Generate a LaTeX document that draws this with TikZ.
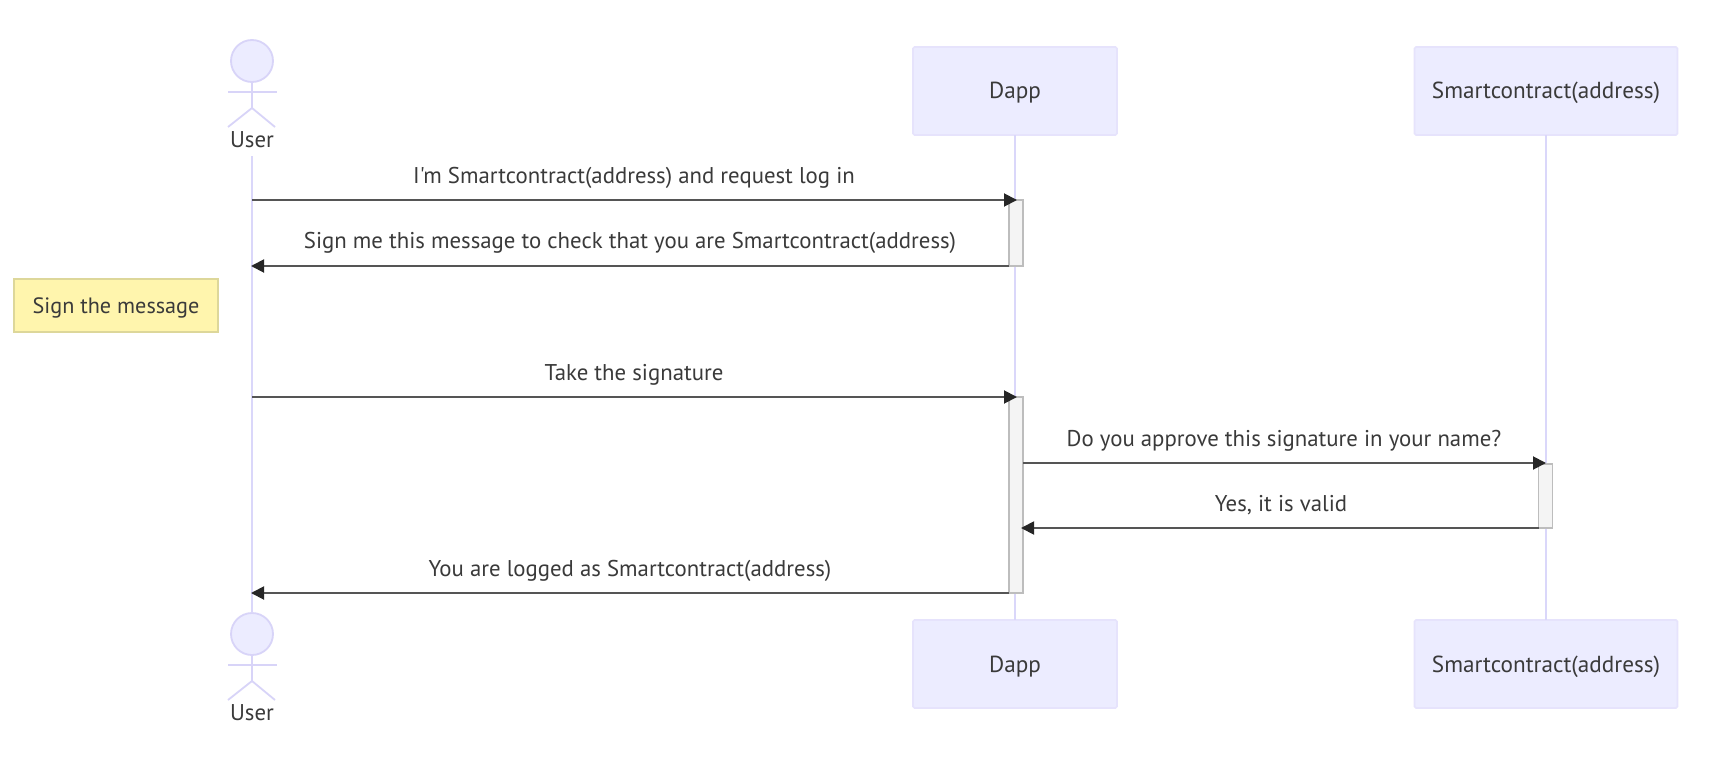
\documentclass[tikz,border=0pt]{standalone}
\usepackage{fontspec}
\setmainfont{PT Sans}[Ligatures=TeXOff]
\usetikzlibrary{arrows.meta}
\definecolor{boxfill}{HTML}{ECECFF}
\definecolor{boxline}{HTML}{E6E3FC}
\definecolor{lifeline}{HTML}{DAD7FA}
\definecolor{actorline}{HTML}{D8D4F8}
\definecolor{msgline}{HTML}{555555}
\definecolor{txt}{HTML}{3A3A3A}
\definecolor{notefill}{HTML}{FFF5AD}
\definecolor{noteline}{HTML}{DDD79A}
\definecolor{actfill}{HTML}{F4F4F4}
\definecolor{actline}{HTML}{BDBDBD}
\tikzset{
  every node/.style={inner sep=0pt,outer sep=0pt,text=txt,font=\fontsize{22.8}{26}\selectfont},
  lifeln/.style={draw=lifeline,line width=2pt},
  actorln/.style={draw=actorline,line width=1.8pt},
  partbox/.style={draw=boxline,line width=1.6pt,fill=boxfill,rounded corners=1.5pt,minimum height=88pt,font=\fontsize{23.2}{26}\selectfont,text depth=4pt,text height=20pt},
  dappbox/.style={partbox,minimum width=204pt},
  scbox/.style={partbox,minimum width=263pt},
  head/.style={circle,draw=actorline,line width=1.8pt,fill=boxfill,minimum size=42pt},
  lbl/.style={anchor=center},
  note/.style={draw=noteline,line width=1.6pt,fill=notefill,minimum width=204pt,minimum height=53pt,font=\fontsize{22.2}{26}\selectfont,text depth=3pt,text height=19pt},
  activation/.style={draw=actline,line width=1.4pt,fill=actfill,minimum width=14pt},
  msg/.style={draw=msgline,line width=1.9pt,-{Triangle[length=13pt,width=13pt,color=black!85]}},
}
\begin{document}
\begin{tikzpicture}[x=1pt,y=-1pt]
\useasboundingbox[fill=white] (0,0) rectangle (1721,776);
% participants
\node[head] (h1) at (252,61) {};
\node[lbl] (u1) at (252,140) {User};
\node[head] (h2) at (252,634) {};
\node[lbl] (u2) at (252,713) {User};
\node[dappbox] (d1) at (1015,91) {Dapp};
\node[dappbox] (d2) at (1015,664) {Dapp};
\node[scbox] (s1) at (1546,91) {Smartcontract(address)};
\node[scbox] (s2) at (1546,664) {Smartcontract(address)};
% lifelines
\draw[lifeln] ([yshift=-8pt]u1.south) -- (h2.north);
\draw[lifeln] (d1.south) -- (d2.north);
\draw[lifeln] (s1.south) -- (s2.north);
% stick figures
\foreach \h/\o in {h1/1,h2/2}{
  \coordinate (neck\o) at (\h.south);
  \coordinate (hip\o) at ([yshift=-26pt]\h.south);
  \draw[actorln] (neck\o) -- (hip\o);
  \draw[actorln] ([shift={(-24pt,16pt)}]hip\o) -- ([shift={(25pt,16pt)}]hip\o);
  \draw[actorln] ([shift={(-24pt,-19pt)}]hip\o) -- (hip\o) -- ([shift={(23pt,-19pt)}]hip\o);
}
% activations
\node[activation,minimum height=66pt] (a1) at (1016,233) {};
\node[activation,minimum height=196pt] (a2) at (1016,495) {};
\node[activation,minimum height=64pt] (a3) at (1545.5,496) {};
% note
\node[note] (n) at (116,305.5) {Sign the message};
% message anchors on the user lifeline
\coordinate (um1) at (u1 |- 0,200);
\coordinate (um2) at (u1 |- 0,266);
\coordinate (um3) at (u1 |- 0,397);
\coordinate (um6) at (u1 |- 0,593);
% messages
\draw[msg] (um1) -- ([xshift=1pt]a1.north);
\draw[msg] (a1.south west) -- ([xshift=-1pt]um2);
\draw[msg] (um3) -- ([xshift=1pt]a2.north);
\coordinate (dm4) at (a2.east |- 0,463);
\coordinate (sm4) at (s1 |- 0,463);
\draw[msg] (dm4) -- (sm4);
\coordinate (dm5) at ([xshift=-2pt]a2.east |- 0,528);
\draw[msg] (a3.south west) -- (dm5);
\draw[msg] (a2.south west) -- ([xshift=-1pt]um6);
% labels
\node[lbl] (l1) at (634,178) {I'm Smartcontract(address) and request log in};
\node[lbl] (l2) at (630,243) {Sign me this message to check that you are Smartcontract(address)};
\node[lbl] (l3) at (634,375) {Take the signature};
\node[lbl] (l4) at (1284,440.5) {Do you approve this signature in your name?};
\node[lbl] (l5) at (1281,505.5) {Yes, it is valid};
\node[lbl] (l6) at (630,571) {You are logged as Smartcontract(address)};
\end{tikzpicture}
\end{document}
